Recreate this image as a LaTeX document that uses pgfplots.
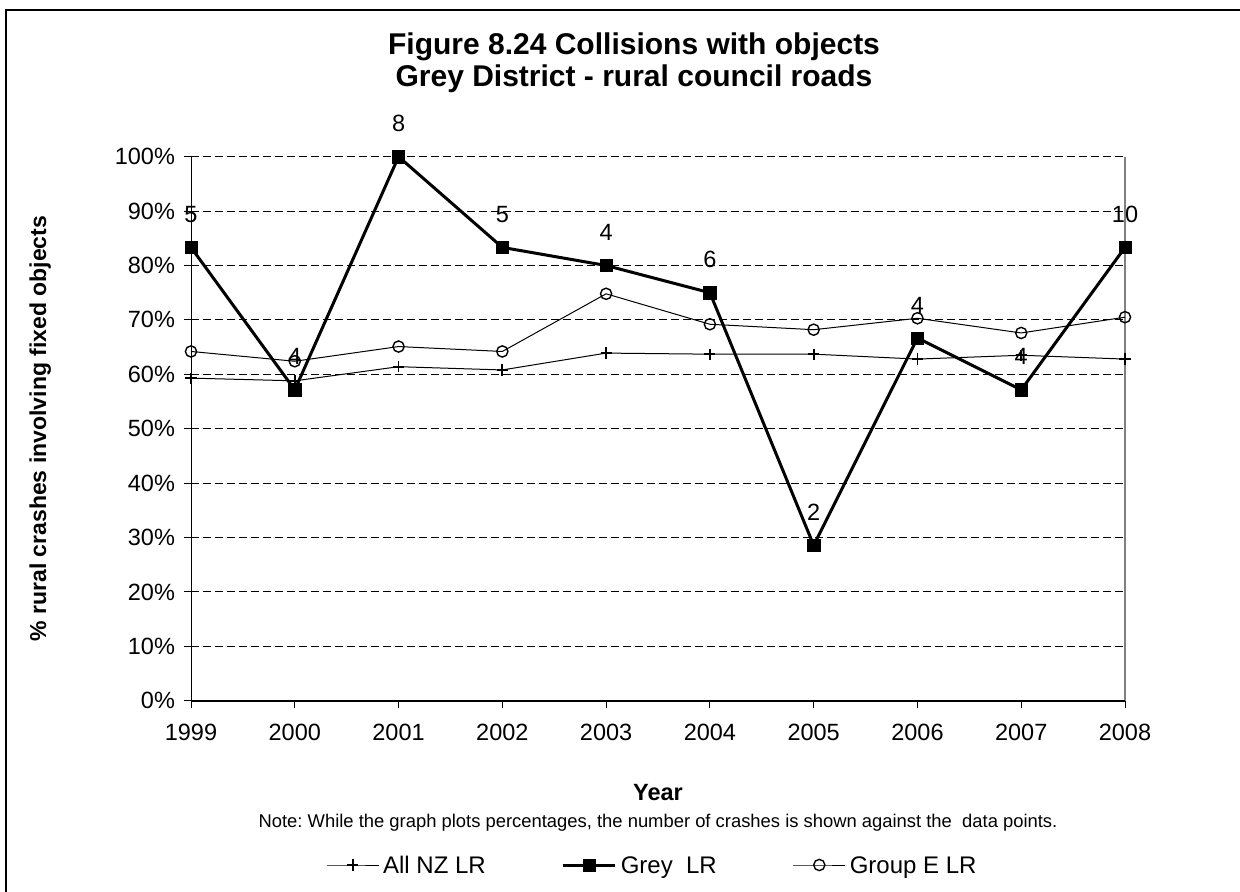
\documentclass[border=0pt]{standalone}
\usepackage{fontspec}
\setmainfont{Liberation Sans}
\usepackage{pgfplots}
\pgfplotsset{compat=1.18}
\frenchspacing
\begin{document}
\begin{tikzpicture}
\useasboundingbox (0pt,0pt) rectangle (620pt,445.5pt);
\draw[line width=1.2pt] (3pt,-20pt) -- (3pt,440.5pt) -- (640pt,440.5pt);
\node[anchor=base, font=\fontsize{15}{17}\selectfont\bfseries] at (317pt,418pt) {Figure 8.24 Collisions with objects};
\node[anchor=base, font=\fontsize{15}{17}\selectfont\bfseries] at (317pt,402pt) {Grey District - rural council roads};
\node[anchor=base, rotate=90, font=\fontsize{11.5}{13}\selectfont\bfseries] at (23pt,231.15pt) {\% rural crashes involving fixed objects};
\node[anchor=base, font=\fontsize{11.75}{13}\selectfont\bfseries] at (329pt,45.5pt) {Year};
\node[anchor=base, font=\fontsize{9.2}{11}\selectfont] at (329pt,32pt) {Note: While the graph plots percentages, the number of crashes is shown against the\ \ data points.};
\begin{axis}[
  at={(95.5pt,95.15pt)}, anchor=south west,
  scale only axis, width=467pt, height=272pt,
  xmin=1999, xmax=2008, ymin=0, ymax=100,
  clip=false,
  axis line style={draw=none},
  xtick={1999,2000,2001,2002,2003,2004,2005,2006,2007,2008},
  xticklabels={1999,2000,2001,2002,2003,2004,2005,2006,2007,2008},
  ytick={0,10,20,30,40,50,60,70,80,90,100},
  yticklabels={0\%,10\%,20\%,30\%,40\%,50\%,60\%,70\%,80\%,90\%,100\%},
  xtick pos=bottom, ytick pos=left,
  tick align=outside, major tick length=3.5pt,
  tick style={black, line width=0.5pt},
  ymajorgrids,
  major grid style={black, line width=0.5pt, dash pattern=on 4pt off 2pt},
  tick label style={font=\fontsize{11.75}{13}\selectfont},
  xticklabel style={yshift=-4.5pt},
  yticklabel style={xshift=-1pt},
  legend columns=3,
  legend style={at={(0.495,-0.302)}, anchor=center, draw=none, fill=none,
    font=\fontsize{12}{14}\selectfont,
    /tikz/every even column/.append style={column sep=36pt}},
  legend image code/.code={\draw[mark repeat=2,mark phase=2] plot coordinates {(0pt,0pt)(13pt,0pt)(26pt,0pt)};},
]
\draw[black, line width=0.5pt] (rel axis cs:0,0) -- (rel axis cs:0,1);
\draw[gray, line width=0.7pt] (rel axis cs:1,0) -- (rel axis cs:1,1);
\draw[black, line width=1.1pt] (rel axis cs:0,0) -- (rel axis cs:1,0);
\addplot[black, line width=0.5pt, mark=+, mark size=2.8pt, mark options={line width=0.9pt}] coordinates {
(1999,59.3) (2000,58.8) (2001,61.4) (2002,60.8) (2003,63.9) (2004,63.7) (2005,63.7) (2006,62.8) (2007,63.5) (2008,62.8)};
\addlegendentry{\strut All NZ LR}
\addplot[black, line width=1.5pt, mark=square*, mark size=3.1pt, mark options={line width=0.3pt},
  point meta=explicit symbolic, nodes near coords,
  every node near coord/.append style={anchor=center, yshift=16.5pt, inner sep=0pt, font=\fontsize{11.75}{13}\selectfont}] coordinates {
(1999,83.33) [5] (2000,57.14) [4] (2001,100) [8] (2002,83.33) [5] (2003,80) [4] (2004,75) [6] (2005,28.57) [2] (2006,66.67) [4] (2007,57.14) [4] (2008,83.33) [10]};
\addlegendentry{\strut Grey\ \ LR}
\addplot[black, line width=0.5pt, mark=o, mark size=2.8pt, mark options={fill=white, line width=0.7pt}] coordinates {
(1999,64.2) (2000,62.4) (2001,65.1) (2002,64.2) (2003,74.8) (2004,69.2) (2005,68.2) (2006,70.3) (2007,67.6) (2008,70.5)};
\addlegendentry{\strut Group E LR}
\end{axis}
\end{tikzpicture}
\end{document}
